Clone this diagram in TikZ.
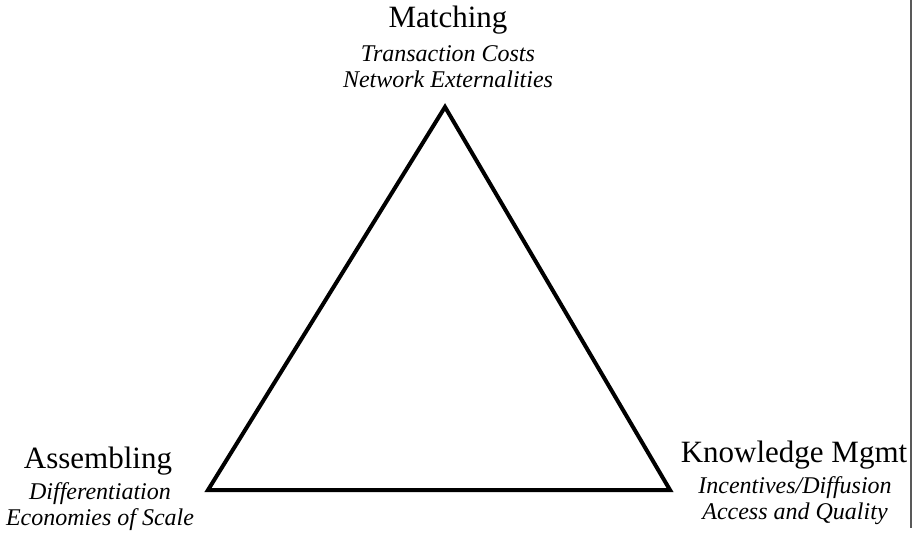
\documentclass[tikz,border=0pt]{standalone}
\usepackage{fontspec}
\setmainfont{Liberation Serif}
\begin{document}
\begin{tikzpicture}[x=1pt,y=-1pt,
  title/.style={anchor=base,inner sep=0pt,font=\fontsize{31}{31}\selectfont},
  sub/.style={anchor=base,inner sep=0pt,font=\fontsize{24}{24}\selectfont\itshape},
  edge/.style={line width=4pt,line join=miter,black},
  rule/.style={line width=1.4pt,black!65}]
  \useasboundingbox (0,0) rectangle (915,535);

  % triangle corners
  \coordinate (apex)  at (445,107);
  \coordinate (left)  at (208,490);
  \coordinate (right) at (670,490);
  \draw[edge] (apex) -- (left) -- (right) -- cycle;

  % top corner labels
  \node[title] (matching) at (448,28) {Matching};
  \node[sub] (transcost) at (448,61) {Transaction Costs};
  \node[sub] (netext) at (448,87) {Network Externalities};

  % lower left labels
  \node[title] (assembling) at (98,468) {Assembling};
  \node[sub] (differ) at (100,499) {Differentiation};
  \node[sub] (econ) at (100,525) {Economies of Scale};

  % lower right labels
  \node[title] (knowledge) at (794,462) {Knowledge Mgmt};
  \node[sub] (incent) at (795,493) {Incentives/Diffusion};
  \node[sub] (access) at (795,519) {Access and Quality};

  % thin rule at the right edge
  \coordinate (ruletop) at (911,0);
  \coordinate (rulebot) at (911,528);
  \draw[rule] (ruletop) -- (rulebot);
\end{tikzpicture}
\end{document}
